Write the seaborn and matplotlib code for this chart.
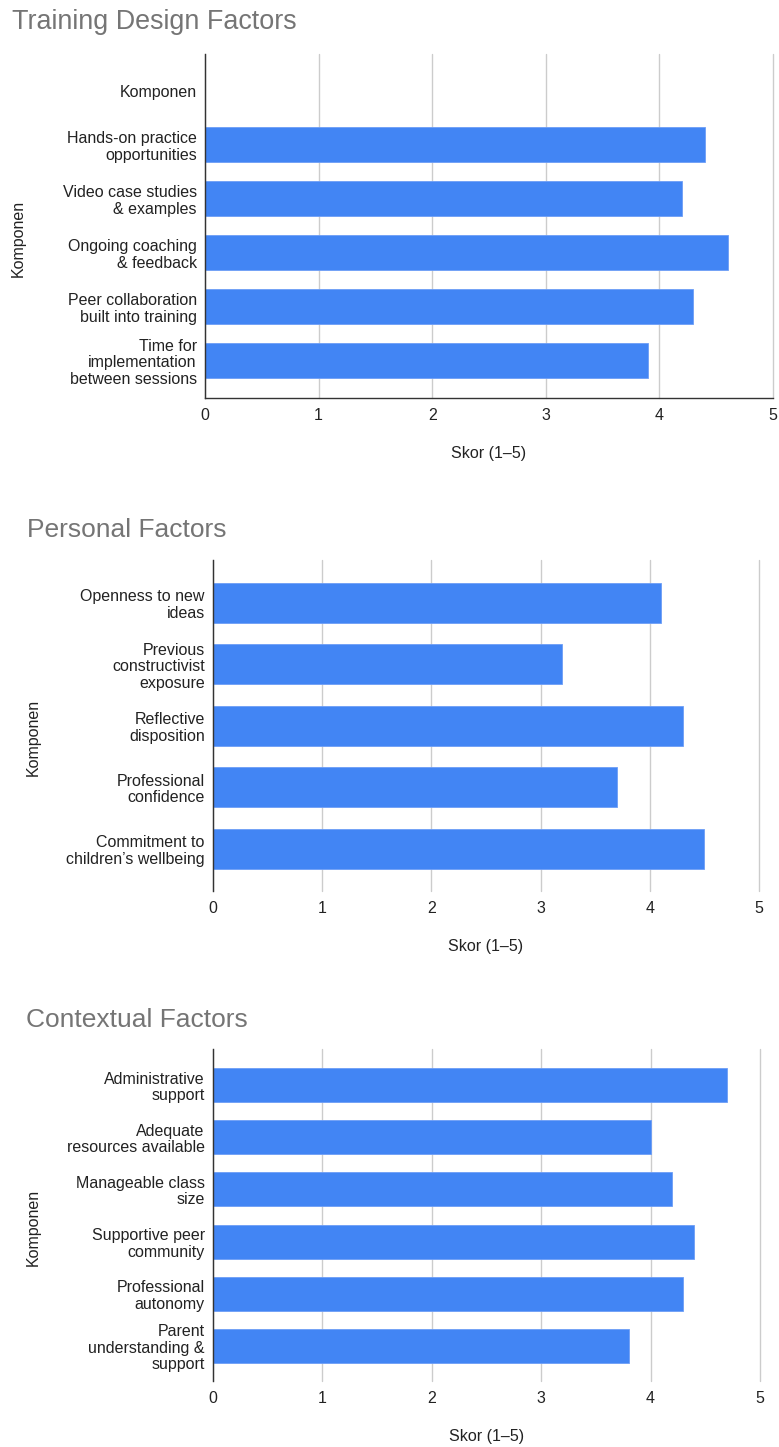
import numpy as np
import pandas as pd
import matplotlib
matplotlib.use("Agg")
import matplotlib.pyplot as plt
import seaborn as sns

# ---------------- data ----------------
titles = ["Training Design Factors", "Personal Factors", "Contextual Factors"]

training_labels = ["Komponen",
                   "Hands-on practice\nopportunities",
                   "Video case studies\n& examples",
                   "Ongoing coaching\n& feedback",
                   "Peer collaboration\nbuilt into training",
                   "Time for\nimplementation\nbetween sessions"]
training_scores = [np.nan, 4.4, 4.2, 4.6, 4.3, 3.9]

personal_labels = ["Openness to new\nideas",
                   "Previous\nconstructivist\nexposure",
                   "Reflective\ndisposition",
                   "Professional\nconfidence",
                   "Commitment to\nchildren\u2019s wellbeing"]
personal_scores = [4.1, 3.2, 4.3, 3.7, 4.5]

contextual_labels = ["Administrative\nsupport",
                     "Adequate\nresources available",
                     "Manageable class\nsize",
                     "Supportive peer\ncommunity",
                     "Professional\nautonomy",
                     "Parent\nunderstanding &\nsupport"]
contextual_scores = [4.7, 4.0, 4.2, 4.4, 4.3, 3.8]

x_ticks = [0, 1, 2, 3, 4, 5]
x_label = "Skor (1\u20135)"
y_label = "Komponen"

# ---------------- style ----------------
sns.set_theme(style="white")
plt.rcParams["font.family"] = ["Liberation Sans", "DejaVu Sans"]

W, H = 779, 1447
fig = plt.figure(figsize=(W / 100, H / 100), dpi=100)

BLUE = "#4285F4"
GRID = "#cccccc"
TXT = "#222222"
TITLE_C = "#757575"
FS = 11.5

# axes boxes in pixels: left, right, top, bottom
boxes = [(205, 773, 54, 398), (213, 759, 560, 891), (213, 760, 1049, 1381)]
title_pos = [(12, 22), (27, 530), (26, 1020)]
title_fs = [19.4, 19, 19]
ylims = [(5.69, -0.68), (4.69, -0.70), (5.67, -0.69)]
bottom_spine = [True, False, False]

datasets = [(training_labels, training_scores),
            (personal_labels, personal_scores),
            (contextual_labels, contextual_scores)]

for i, ((labels, scores), (l, r, t, b)) in enumerate(zip(datasets, boxes)):
    ax = fig.add_axes([l / W, 1 - b / H, (r - l) / W, (b - t) / H])
    df = pd.DataFrame({"Komponen": labels, "Skor": scores})
    sns.barplot(data=df, x="Skor", y="Komponen", order=labels, ax=ax,
                color=BLUE, saturation=1, width=0.65, errorbar=None,
                edgecolor="#6d9ef6", linewidth=0.6)
    ax.set_xlim(0, 5)
    ax.set_ylim(*ylims[i])
    ax.set_xticks(x_ticks)
    ax.set_xticklabels([str(v) for v in x_ticks], fontsize=FS, color=TXT)
    ax.tick_params(axis="both", length=0, labelsize=FS, colors=TXT)
    ax.tick_params(axis="y", pad=6)
    ax.tick_params(axis="x", pad=7)
    for lab in ax.get_yticklabels():
        lab.set_linespacing(1.12)
        lab.set_color(TXT)
    ax.xaxis.grid(True, color=GRID, linewidth=1.0)
    ax.yaxis.grid(False)
    ax.set_axisbelow(True)
    for gl in ax.get_xgridlines():
        gl.set_clip_on(False)
    for side in ["top", "right"]:
        ax.spines[side].set_visible(False)
    ax.spines["left"].set_color("#333333")
    ax.spines["left"].set_linewidth(1.0)
    if bottom_spine[i]:
        ax.spines["bottom"].set_color("#333333")
        ax.spines["bottom"].set_linewidth(1.0)
    else:
        ax.spines["bottom"].set_visible(False)
    ax.set_xlabel(x_label, fontsize=FS, color=TXT)
    ax.set_ylabel(y_label, fontsize=FS, color=TXT)
    ax.xaxis.set_label_coords(0.5, -0.14 if i == 0 else -0.145)
    ax.yaxis.set_label_coords(-0.315, 0.464)
    tx, ty = title_pos[i]
    fig.text(tx / W, 1 - ty / H, titles[i], fontsize=title_fs[i], color=TITLE_C,
             ha="left", va="center")

fig.savefig("out.png", dpi=100, facecolor="white")
